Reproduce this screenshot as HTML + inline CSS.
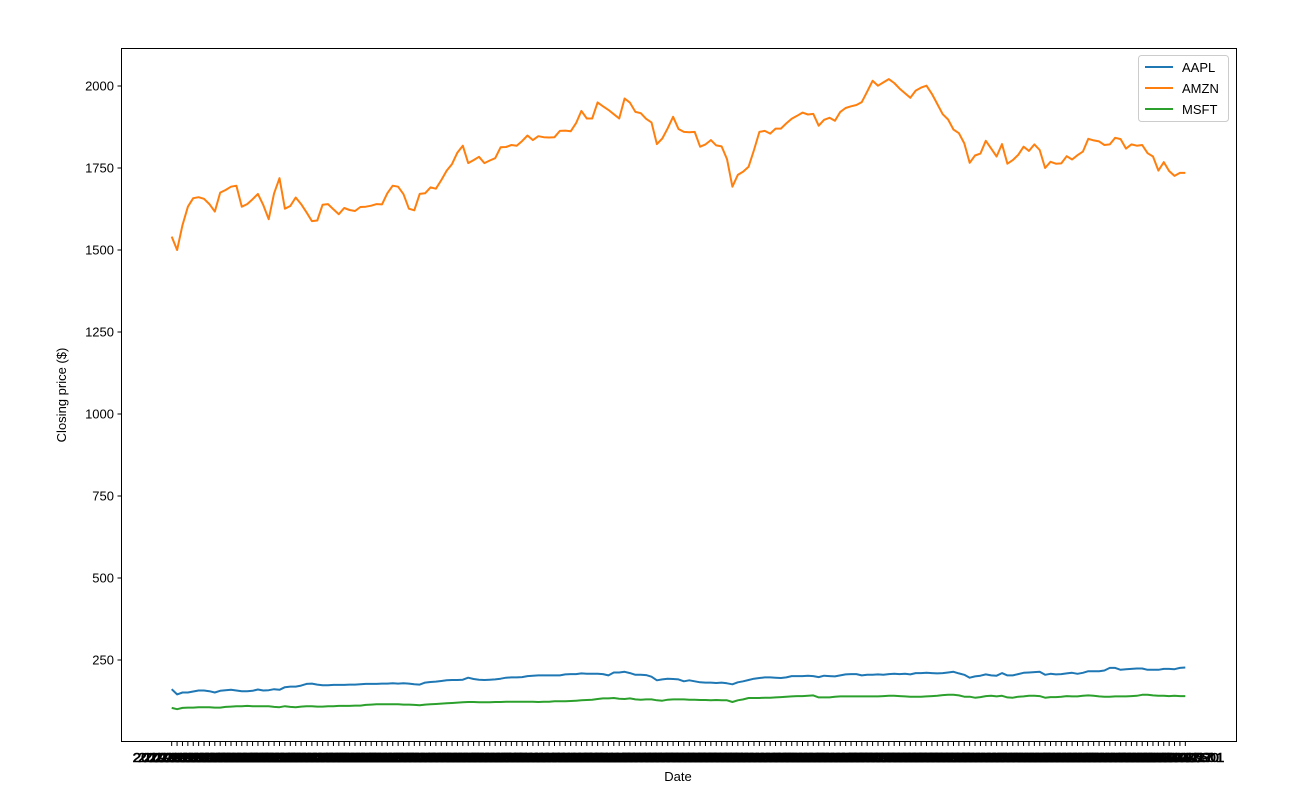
<!DOCTYPE html>
<html><head><meta charset="utf-8"><style>
html,body{margin:0;padding:0;background:#fff;}
svg{display:block;font-family:"Liberation Sans","DejaVu Sans",sans-serif;}
</style></head><body>
<svg id="chart" width="1293" height="799" viewBox="0 0 1293 799" xmlns="http://www.w3.org/2000/svg">
<rect x="0" y="0" width="1293" height="799" fill="#fff"/>
<g id="plot"></g>
<rect x="121.5" y="48.5" width="1115" height="693" fill="none" stroke="#000" stroke-width="1"/>
<g id="yticks"></g>
<g id="xticks"></g>
<text x="66" y="395" font-size="13" text-anchor="middle" transform="rotate(-90 66 395)">Closing price ($)</text>
<text x="678" y="781" font-size="13" text-anchor="middle">Date</text>
<g>
<rect x="1138.5" y="55.5" width="90" height="66" rx="3" fill="#fff" fill-opacity="0.8" stroke="#ccc"/>
<g><line x1="1145" y1="67" x2="1173" y2="67" stroke="#1f77b4" stroke-width="2"/><text x="1182" y="72" font-size="13">AAPL</text></g>
<g><line x1="1145" y1="88" x2="1173" y2="88" stroke="#ff7f0e" stroke-width="2"/><text x="1182" y="93" font-size="13">AMZN</text></g>
<g><line x1="1145" y1="109" x2="1173" y2="109" stroke="#2ca02c" stroke-width="2"/><text x="1182" y="114" font-size="13">MSFT</text></g>
</g>
</svg>
<script>
const aapl = [161,145,151,151,154,157,157,155,151,156,158,159,157,155,155,156,160,157,158,161,159,167,169,169,172,177,178,175,173,173,174,174,174,175,175,176,177,177,177,178,178,179,178,179,178,176,175,181,183,184,186,188,189,189,190,196,192,190,189,190,191,193,196,197,197,198,
201,202,203,203,203,203,203,206,207,207,209,208,208,208,207,203,212,212,214,210,205,205,204,199,188,191,193,192,191,185,188,185,182,181,181,180,181,179,176,182,185,189,193,195,197,197,196,195,197,201,201,201,202,201,198,202,201,200,203,206,207,207,203,205,
205,206,205,207,208,207,208,206,210,210,211,210,209,210,212,214,209,205,196,200,202,206,203,202,210,203,203,207,211,212,213,214,205,208,206,207,209,211,208,211,216,216,216,218,226,226,220,222,223,224,224,220,220,220,223,223,222,226,227];
const amzn = [1541,1500,1576,1632,1658,1661,1656,1640,1617,1675,1683,1693,1696,1632,1640,1655,1671,1637,1594,1673,1719,1626,1634,1660,1640,1615,1588,1590,1638,1640,1624,1609,1628,1622,1619,1631,1632,1635,1640,1639,1673,1696,1693,1670,1626,1621,1671,1673,1691,1687,1713,1742,1762,1797,1818,1765,1774,1784,1765,1773,1780,1813,1814,1820,1818,1832,
1849,1835,1847,1844,1843,1844,1863,1864,1862,1887,1924,1901,1901,1950,1938,1927,1914,1901,1962,1949,1921,1917,1900,1889,1823,1840,1871,1906,1869,1860,1859,1860,1815,1822,1835,1819,1816,1777,1693,1729,1739,1754,1805,1860,1863,1855,1870,1870,1886,1900,1909,1919,1913,1915,1879,1897,1903,1894,1921,1933,1938,1942,1951,
1983,2016,2001,2011,2021,2009,1992,1978,1964,1986,1995,2001,1976,1945,1914,1898,1867,1856,1825,1766,1788,1794,1833,1809,1785,1823,1763,1774,1790,1815,1802,1822,1805,1750,1769,1763,1764,1786,1776,1789,1800,1839,1834,1831,1820,1822,1842,1838,1809,1822,1818,1820,1795,1785,1742,1768,1741,1726,1735,1735];
const msft = [104,100,104,105,105,106,106,106,105,105,107,108,109,109,110,109,109,109,109,107,106,109,107,106,108,109,109,108,108,109,109,110,110,110,111,111,113,114,115,115,115,115,115,114,114,113,112,114,115,116,117,118,119,120,121,122,122,121,121,121,122,122,123,123,123,123,
123,123,122,123,123,124,124,124,125,126,127,128,129,131,133,133,134,132,131,133,130,129,130,130,127,126,129,130,130,130,129,129,128,128,127,128,127,127,122,127,130,134,134,134,135,135,136,137,138,139,140,140,141,142,136,136,136,138,139,139,139,139,139,139,
139,139,140,141,141,140,139,138,138,138,139,140,141,143,144,144,142,138,138,135,137,140,141,139,141,136,135,138,139,141,141,140,135,137,137,138,140,139,139,141,142,141,139,138,138,139,139,139,140,141,144,144,142,141,141,140,141,140,140];
const yTicks = [250,500,750,1000,1250,1500,1750,2000];
const holidays = ["2019-01-21","2019-02-18","2019-04-19","2019-05-27","2019-07-04","2019-09-02"];
const dates = [];
(function(){let d=new Date(Date.UTC(2019,0,2));while(dates.length<amzn.length){const w=d.getUTCDay();const s=d.toISOString().slice(0,10);if(w!==0&&w!==6&&holidays.indexOf(s)<0)dates.push(s);d.setUTCDate(d.getUTCDate()+1);}})();

const NS="http://www.w3.org/2000/svg";
const L=121,R=1236,T=48,B=741;
const n=amzn.length;
const pad=(n-1)*0.05;
function xs(i){return L+(i+pad)*(R-L)/((n-1)+2*pad);}
function ys(v){return 742 - (v)*(574/1750);}
function mk(tag,attrs,parent){const e=document.createElementNS(NS,tag);for(const k in attrs)e.setAttribute(k,attrs[k]);parent.appendChild(e);return e;}

const yg=document.getElementById('yticks');
yTicks.forEach(v=>{
  const y=ys(v);
  const t=mk('line',{x1:L-3.5,x2:L,y1:y,y2:y,stroke:'#000'},yg);
  
  
  const lb=mk('text',{x:L-7,y:y+4.5,'font-size':13,'text-anchor':'end'},yg);
  
  
  lb.textContent=v;
});
const xg=document.getElementById('xticks');
dates.forEach((d,i)=>{
  const x=xs(i);
  const t=mk('line',{x1:x,x2:x,y1:B+0.5,y2:B+5,stroke:'#000','stroke-width':1},xg);
  
  
  const lb=mk('text',{x:x-39,y:762,'font-size':13,textLength:78,lengthAdjust:'spacingAndGlyphs',stroke:'#000','stroke-width':0.6},xg);
  
  
  lb.textContent=d;
});
const pg=document.getElementById('plot');
[[aapl,'#1f77b4','aapl-line'],[amzn,'#ff7f0e','amzn-line'],[msft,'#2ca02c','msft-line']].forEach(([arr,c,name])=>{
  const pts=arr.map((v,i)=>xs(i).toFixed(1)+','+ys(v).toFixed(1)).join(' ');
  const p=mk('polyline',{points:pts,fill:'none',stroke:c,'stroke-width':2,'stroke-linejoin':'round'},pg);
  
  
});
</script>
</body></html>
